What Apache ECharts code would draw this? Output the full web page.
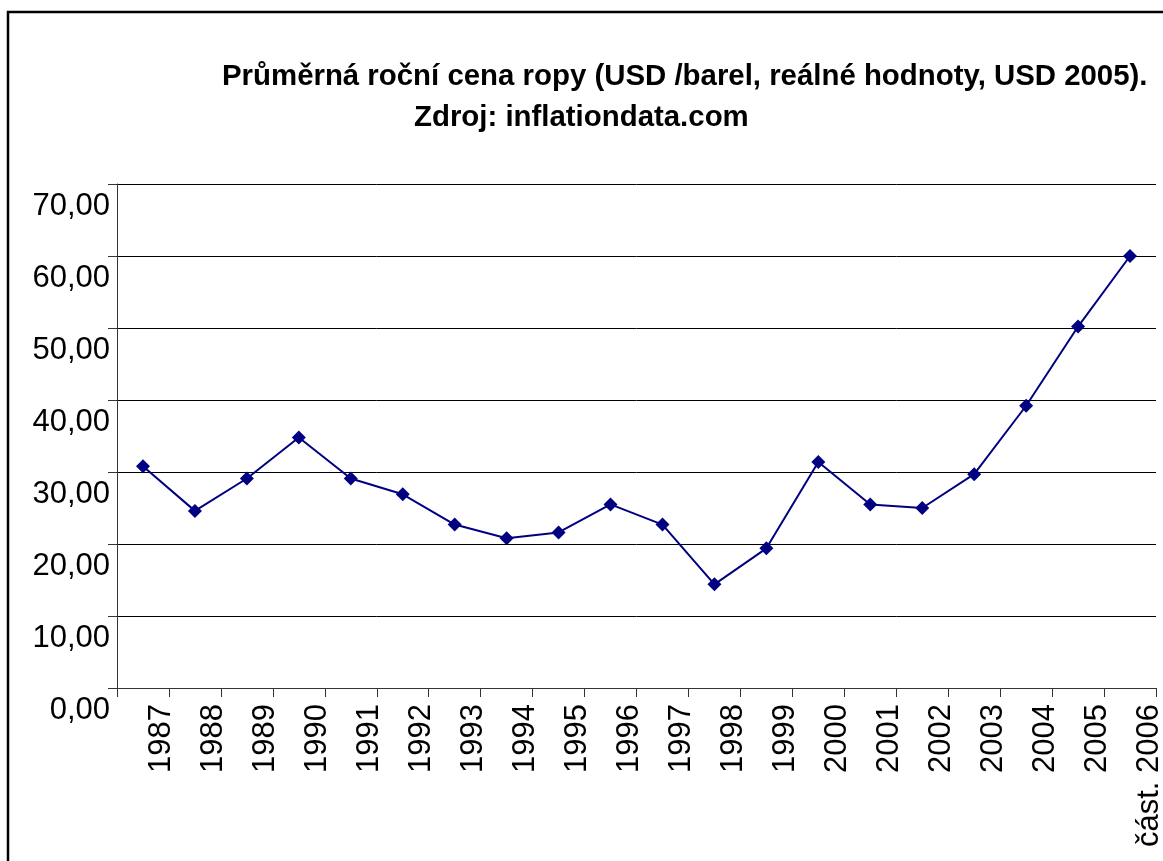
<!DOCTYPE html>
<html lang="cs">
<head>
<meta http-equiv="Content-Type" content="text/html; charset=utf-8" />
<title>Průměrná roční cena ropy</title>
<script type="text/javascript" src="https://cdn.jsdelivr.net/npm/echarts@6/dist/echarts.min.js"></script>
<style>
	html, body { margin: 0; padding: 0; background: #fff; }
</style>
</head>
<body>
	<div id="line" style="width: 1163px; height: 861px;"></div>
</body>
<script type="text/javascript">
	// data
	var years = ['1987', '1988', '1989', '1990', '1991', '1992', '1993', '1994', '1995', '1996',
		'1997', '1998', '1999', '2000', '2001', '2002', '2003', '2004', '2005', 'část. 2006'];
	var prices = [30.8, 24.6, 29.1, 34.8, 29.1, 26.9, 22.7, 20.8, 21.6, 25.5,
		22.7, 14.4, 19.4, 31.4, 25.5, 25.0, 29.7, 39.2, 50.2, 60.0];
	var yTicks = [0, 10, 20, 30, 40, 50, 60, 70];

	var font = 'Liberation Sans, Arial, sans-serif';
	var lineChart = echarts.init(document.getElementById('line'));
	lineChart.setOption({
		animation: false,
		title: [{
			text: 'Průměrná roční cena ropy (USD /barel, reálné hodnoty, USD 2005).',
			left: 222,
			top: 62,
			padding: 0,
			textStyle: { fontFamily: font, fontSize: 29.4, fontWeight: 'bold', color: '#000' }
		}, {
			text: 'Zdroj: inflationdata.com',
			left: 414,
			top: 103,
			padding: 0,
			textStyle: { fontFamily: font, fontSize: 29.4, fontWeight: 'bold', color: '#000' }
		}],
		// ramecek kolem grafu
		graphic: [{
			type: 'rect',
			shape: { x: 8, y: 12, width: 1300, height: 1000 },
			style: { fill: 'none', stroke: '#000', lineWidth: 2.5 },
			silent: true
		}],
		grid: [{
			left: 117,
			right: 7,
			top: 184,
			bottom: 173,
			outerBoundsMode: 'none',
			containLabel: false
		}, {
			// druhy grid jen pro popisky, posunuty o kousek doleva
			left: 110,
			right: 14,
			top: 184,
			bottom: 173,
			outerBoundsMode: 'none',
			containLabel: false
		}],
		xAxis: [{
			type: 'category',
			gridIndex: 0,
			data: years,
			boundaryGap: true,
			axisLine: { lineStyle: { color: '#333', width: 1 } },
			axisTick: { show: true, length: 9, interval: 0, lineStyle: { color: '#333' } },
			axisLabel: { show: false },
			splitLine: { show: false }
		}, {
			// popisky sedi na hranicich kategorii
			type: 'category',
			gridIndex: 1,
			data: [''].concat(years),
			boundaryGap: false,
			axisLine: { show: false },
			axisTick: { show: false },
			splitLine: { show: false },
			axisLabel: {
				interval: 0,
				rotate: 90,
				margin: 16,
				fontFamily: font,
				fontSize: 31,
				color: '#000'
			}
		}],
		yAxis: [{
			type: 'value',
			gridIndex: 0,
			min: yTicks[0],
			max: yTicks[yTicks.length - 1],
			interval: 10,
			axisLine: { show: true, lineStyle: { color: '#333', width: 1 } },
			axisTick: { show: true, length: 9, lineStyle: { color: '#333' } },
			splitLine: { show: true, lineStyle: { color: '#000', width: 1 } },
			axisLabel: {
				margin: 7,
				fontFamily: font,
				fontSize: 31,
				color: '#000',
				verticalAlign: 'top',
				padding: [7, 0, 0, 0],
				formatter: function (v) {
					return v.toFixed(2).replace('.', ',');
				}
			}
		}, {
			type: 'value',
			gridIndex: 1,
			show: false
		}],
		series: [{
			name: 'cena',
			type: 'line',
			xAxisIndex: 0,
			yAxisIndex: 0,
			data: prices,
			symbol: 'diamond',
			symbolSize: 14,
			showAllSymbol: true,
			lineStyle: { color: '#000080', width: 2 },
			itemStyle: { color: '#000080' }
		}]
	});
</script>
</html>
